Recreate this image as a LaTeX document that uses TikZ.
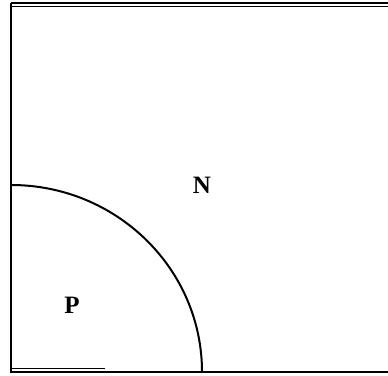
\documentclass[tikz,border=0pt]{standalone}
\usepackage{fontspec}
\setmainfont{Liberation Serif}
\usetikzlibrary{positioning}

\begin{document}
\begin{tikzpicture}[
      x=1pt, y=1pt,
      frame/.style={line width=1.8pt},
      region/.style={font=\fontsize{25}{27}\selectfont\bfseries, inner sep=0pt}
    ]
      \useasboundingbox (0,0) rectangle (388,375);
      % frame
      \coordinate (bl) at (11,3);
      \draw[frame] (11,372) -- (388,372);
      \draw[frame] (11,368.5) -- (388,368.5);
      \draw[frame] (11,372) -- (bl) -- (388,3);
      \draw[frame] (11,6.5) -- (105,6.5);
      % boundary between the regions
      \draw[line width=2pt] (bl) ++(191,0) arc[start angle=0, end angle=90, x radius=191, y radius=187];
      \node[region] (N) at (202,190) {N};
      \node[region] (P) at (72,70) {P};
    \end{tikzpicture}
\end{document}
